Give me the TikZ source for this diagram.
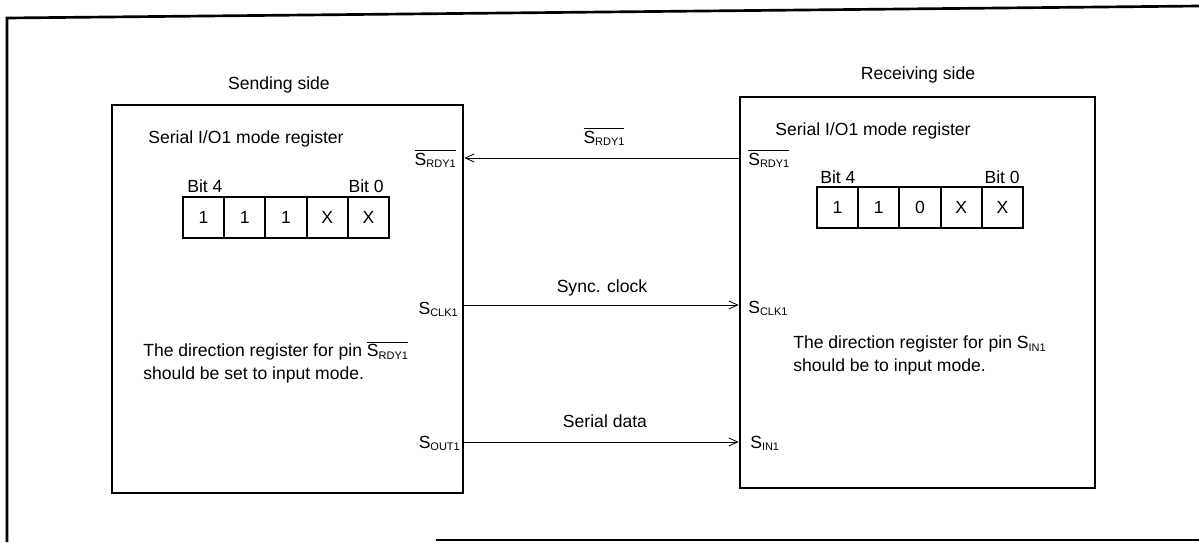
\documentclass[tikz,border=0pt]{standalone}
\usepackage{fontspec}
\setmainfont{Liberation Sans}
\usetikzlibrary{positioning, arrows.meta, fit}

\newcommand{\pinname}[1]{S\raisebox{-0.3ex}{\fontsize{7.8}{9}\selectfont #1}}
\newcommand{\pinbar}[1]{$\overline{\hbox{\pinname{#1}}}$}

\begin{document}
\begin{tikzpicture}[
        x=0.25mm, y=-0.25mm,
        font=\fontsize{12.5}{16}\selectfont,
        panel/.style = {draw, line width=1.9pt, inner sep=0pt},
        frame/.style = {line width=1.9pt},
        bitcell/.style = {draw, line width=1.4pt, minimum size=10.3mm, inner sep=0pt, outer sep=0pt},
        lbl/.style = {inner sep=0pt},
        arrow/.style = {-{Straight Barb[length=2.2mm, width=2mm]}, line width=0.6pt},
    ]
        \useasboundingbox (0,0) rectangle (1199,542);
        \draw[frame] (7,542) -- (7,18) -- (1199,6);
        \draw[frame] (436,540) -- (1199,540);

        \node[panel, fit={(112,105) (463,493)}] (send) {};
        \node[panel, fit={(740,97) (1095,488)}] (recv) {};
        \node[lbl, anchor=base] (sendtitle) at (279,89) {Sending side};
        \node[lbl, anchor=base] (recvtitle) at (918,79) {Receiving side};

        \node[lbl, anchor=base west] (sendmode) at (148,143) {Serial I/O1 mode register};
        \node[bitcell] (s4) at (203.6,217.6) {1};
        \node[bitcell, right=0pt of s4] (s3) {1};
        \node[bitcell, right=0pt of s3] (s2) {1};
        \node[bitcell, right=0pt of s2] (s1) {X};
        \node[bitcell, right=0pt of s1] (s0) {X};
        \node[lbl, above right=1.25mm and 1mm of s4.north west, anchor=base west] (sbit4) {Bit 4};
        \node[lbl, above left=1.25mm and 1.25mm of s0.north east, anchor=base east] (sbit0) {Bit 0};

        \node[lbl, anchor=base west] (recvmode) at (775,135) {Serial I/O1 mode register};
        \node[bitcell] (r4) at (837.6,207.6) {1};
        \node[bitcell, right=0pt of r4] (r3) {1};
        \node[bitcell, right=0pt of r3] (r2) {0};
        \node[bitcell, right=0pt of r2] (r1) {X};
        \node[bitcell, right=0pt of r1] (r0) {X};
        \node[lbl, above right=1mm and 0.75mm of r4.north west, anchor=base west] (rbit4) {Bit 4};
        \node[lbl, above left=1mm and 0.75mm of r0.north east, anchor=base east] (rbit0) {Bit 0};

        \node[lbl, anchor=base east] (srdyL) at (456,165) {\pinbar{RDY1}};
        \node[lbl, anchor=base east] (sclkL) at (458,314) {\pinname{CLK1}};
        \node[lbl, anchor=base east] (soutL) at (460,448) {\pinname{OUT1}};
        \node[lbl, anchor=base west] (srdyR) at (748,165) {\pinbar{RDY1}};
        \node[lbl, anchor=base west] (sclkR) at (748,313) {\pinname{CLK1}};
        \node[lbl, anchor=base west] (sinR) at (750,448) {\pinname{IN1}};

        \node[lbl, anchor=base west, align=left] (senddir) at (143,379) {The direction register for pin \pinbar{RDY1}\\should be set to input mode.};
        \node[lbl, anchor=base west, align=left] (recvdir) at (793,371) {The direction register for pin \pinname{IN1}\\should be to input mode.};

        \coordinate (rdy) at (600,158);
        \coordinate (clk) at (600,305);
        \coordinate (dat) at (600,442);
        \draw[arrow] (recv.west |- rdy) -- (send.east |- rdy);
        \draw[arrow] (send.east |- clk) -- (recv.west |- clk);
        \draw[arrow] (send.east |- dat) -- (recv.west |- dat);
        \node[lbl, anchor=base] (rdylbl) at (604,143) {\pinbar{RDY1}};
        \node[lbl, anchor=base] (clklbl) at (602,292) {Sync. clock};
        \node[lbl, anchor=base] (datlbl) at (605,427) {Serial data};
    \end{tikzpicture}
\end{document}
